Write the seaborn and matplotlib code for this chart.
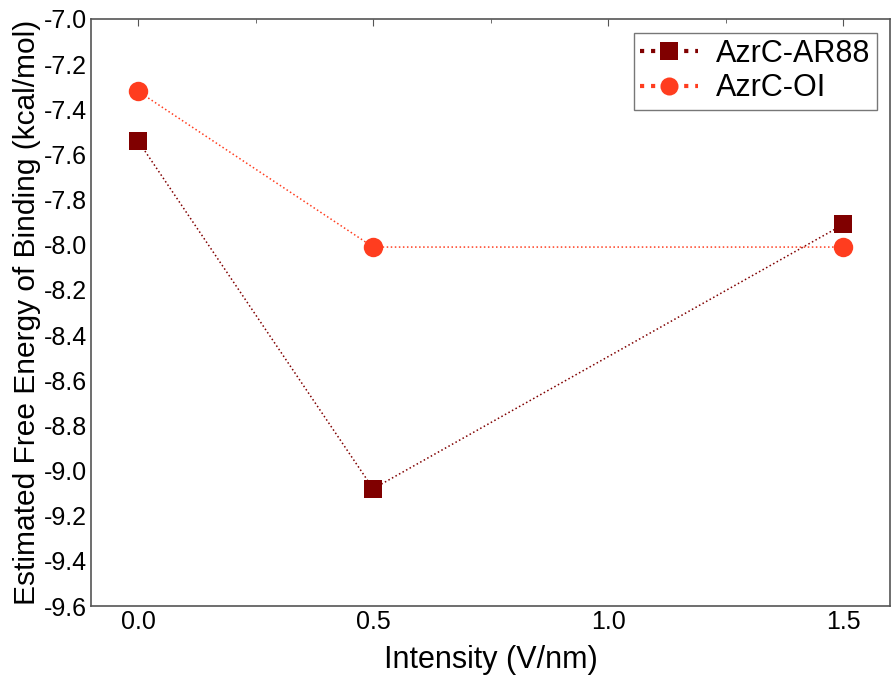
import matplotlib
matplotlib.use("Agg")
import matplotlib.pyplot as plt
from matplotlib.ticker import MultipleLocator, FormatStrFormatter
import seaborn as sns
import pandas as pd

# values
intensity = [0.0, 0.5, 1.5]
ar88 = [-7.54, -9.08, -7.91]
oi = [-7.32, -8.01, -8.01]

series = ["AzrC-AR88", "AzrC-OI"]
colors = {"AzrC-AR88": "#800000", "AzrC-OI": "#FF3D1F"}
markers = {"AzrC-AR88": "s", "AzrC-OI": "o"}

df = pd.DataFrame({
    "Intensity": intensity * 2,
    "Energy": ar88 + oi,
    "System": [series[0]] * 3 + [series[1]] * 3,
})

sns.set_style("white")
plt.rcParams["font.family"] = ["Liberation Sans", "DejaVu Sans"]
plt.rcParams["text.color"] = "black"
plt.rcParams["axes.labelcolor"] = "black"
plt.rcParams["xtick.color"] = "black"
plt.rcParams["ytick.color"] = "black"

fig, ax = plt.subplots(figsize=(8.93, 6.78), dpi=100)
fig.subplots_adjust(left=0.102, right=0.997, top=0.972, bottom=0.106)

for name in series:
    sub = df[df["System"] == name]
    sns.lineplot(data=sub, x="Intensity", y="Energy", ax=ax, color=colors[name],
                 marker=markers[name], markersize=14 if name == series[1] else 13,
                 markeredgewidth=0, linestyle=":", linewidth=1.1, label=name)

ax.set_xlim(-0.1, 1.6)
ax.set_ylim(-9.6, -7.0)
ax.xaxis.set_major_locator(MultipleLocator(0.5))
ax.xaxis.set_minor_locator(MultipleLocator(0.25))
ax.yaxis.set_major_locator(MultipleLocator(0.2))
ax.yaxis.set_minor_locator(MultipleLocator(0.1))
ax.xaxis.set_major_formatter(FormatStrFormatter("%.1f"))
ax.yaxis.set_major_formatter(FormatStrFormatter("%.1f"))

ax.tick_params(which="major", direction="in", length=5, width=0.8, color="#555555",
               labelsize=18, top=True, right=False, pad=3)
ax.tick_params(which="minor", direction="in", length=3, width=0.6, color="#555555",
               top=True)
for sp in ax.spines.values():
    sp.set_color("#555555")
    sp.set_linewidth(1.2)

ax.set_xlabel("Intensity (V/nm)", fontsize=22, labelpad=8)
ax.set_ylabel("Estimated Free Energy of Binding (kcal/mol)", fontsize=21.5, labelpad=2)

leg = ax.legend(loc="upper right", fontsize=22, frameon=True, fancybox=False,
                handlelength=1.9, borderaxespad=0.45, handletextpad=0.6,
                labelspacing=0.15, borderpad=0.2)
leg.get_frame().set_edgecolor("#555555")
leg.get_frame().set_linewidth(1.0)
for h in leg.get_lines():
    h.set_linewidth(3)
    h.set_markersize(13)

fig.savefig("out.png", dpi=100)
